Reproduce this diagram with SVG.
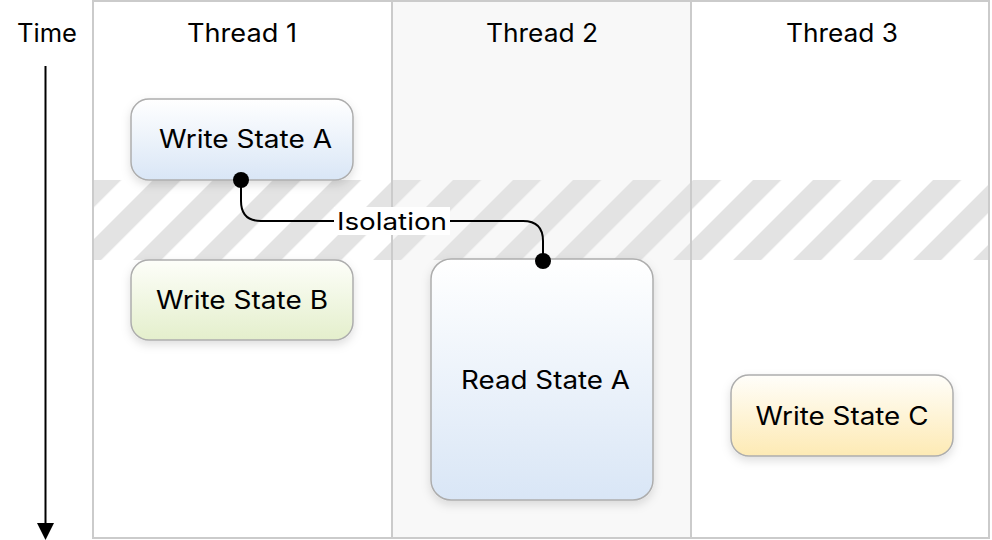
<svg xmlns="http://www.w3.org/2000/svg" width="992" height="540" viewBox="0 0 992 540">
<style>
  text { font-family: Inter, "Liberation Sans", Arial, sans-serif; fill: #000; }
  .hdr { font-size: 25px; text-anchor: middle; }
  .lbl { font-size: 25px; text-anchor: middle; }
  .box { stroke: #adadad; stroke-width: 1.5; filter: url(#shadow); }
  .sep { stroke: #cbcbcb; stroke-width: 2; fill: none; }
  .conn { stroke: #000; stroke-width: 2; fill: none; }
</style>
<defs>
  <linearGradient id="gBlue" x1="0" y1="0" x2="0" y2="1">
    <stop offset="0" stop-color="#ffffff"/>
    <stop offset="1" stop-color="#d9e6f6"/>
  </linearGradient>
  <linearGradient id="gGreen" x1="0" y1="0" x2="0" y2="1">
    <stop offset="0" stop-color="#fdfef9"/>
    <stop offset="1" stop-color="#e4efcc"/>
  </linearGradient>
  <linearGradient id="gYellow" x1="0" y1="0" x2="0" y2="1">
    <stop offset="0" stop-color="#fffefa"/>
    <stop offset="1" stop-color="#fdeab4"/>
  </linearGradient>
  <pattern id="hatch" patternUnits="userSpaceOnUse" width="42.43" height="20" patternTransform="translate(33 180) rotate(45)">
    <rect x="0" y="0" width="20" height="20" fill="#e3e3e3"/>
  </pattern>
  <filter id="shadow" x="-20%" y="-20%" width="140%" height="150%">
    <feDropShadow dx="0" dy="4" stdDeviation="5" flood-color="#000" flood-opacity="0.13"/>
  </filter>
</defs>

<!-- lanes -->
<g id="lanes">
  <rect x="93" y="1" width="897" height="537" fill="#ffffff"/>
  <rect x="392" y="1" width="299" height="537" fill="#f8f8f8"/>
  <rect x="93" y="180" width="897" height="80" fill="url(#hatch)"/>
  <rect x="93" y="1" width="896" height="537" class="sep"/>
  <line x1="392" y1="1" x2="392" y2="538" class="sep"/>
  <line x1="691" y1="1" x2="691" y2="538" class="sep"/>
  <text class="hdr" x="242" y="42" textLength="110" lengthAdjust="spacingAndGlyphs">Thread 1</text>
  <text class="hdr" x="542" y="42" textLength="112" lengthAdjust="spacingAndGlyphs">Thread 2</text>
  <text class="hdr" x="842" y="42" textLength="112" lengthAdjust="spacingAndGlyphs">Thread 3</text>
</g>

<!-- time axis -->
<g id="time">
  <text class="hdr" x="47" y="42" textLength="60" lengthAdjust="spacingAndGlyphs">Time</text>
  <line x1="45.5" y1="66" x2="45.5" y2="526" stroke="#000" stroke-width="2"/>
  <polygon points="37,523 54,523 45.5,540" fill="#000"/>
</g>

<g id="writeA">
  <rect class="box" x="131" y="99" width="222" height="81" rx="18" fill="url(#gBlue)"/>
  <text class="lbl" x="245.5" y="148" textLength="173" lengthAdjust="spacingAndGlyphs">Write State A</text>
</g>
<g id="writeB">
  <rect class="box" x="131" y="260" width="222" height="80" rx="18" fill="url(#gGreen)"/>
  <text class="lbl" x="242" y="309" textLength="172" lengthAdjust="spacingAndGlyphs">Write State B</text>
</g>
<g id="readA">
  <rect class="box" x="431" y="259" width="222" height="241" rx="20" fill="url(#gBlue)"/>
  <text class="lbl" x="545.5" y="389" textLength="169" lengthAdjust="spacingAndGlyphs">Read State A</text>
</g>
<g id="writeC">
  <rect class="box" x="731" y="375" width="222" height="81" rx="18" fill="url(#gYellow)"/>
  <text class="lbl" x="842" y="425" textLength="173" lengthAdjust="spacingAndGlyphs">Write State C</text>
</g>

<!-- connectors -->
<g id="connectors">
  <path class="conn" d="M241,180 V201 Q241,221 261,221 H523 Q543,221 543,241 V261"/>
  <rect x="334" y="207" width="116" height="28" fill="#ffffff"/>
  <text x="392" y="230" font-size="24" text-anchor="middle" textLength="110" lengthAdjust="spacingAndGlyphs">Isolation</text>
  <circle cx="241" cy="180" r="8" fill="#000"/>
  <circle cx="543" cy="261" r="8" fill="#000"/>
</g>
</svg>
